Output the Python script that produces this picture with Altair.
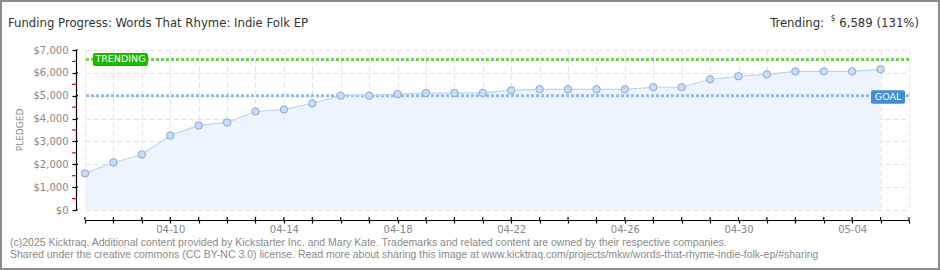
import altair as alt
import pandas as pd

# ---- data ----
dates = ["2025-04-07", "2025-04-08", "2025-04-09", "2025-04-10", "2025-04-11", "2025-04-12",
         "2025-04-13", "2025-04-14", "2025-04-15", "2025-04-16", "2025-04-17", "2025-04-18",
         "2025-04-19", "2025-04-20", "2025-04-21", "2025-04-22", "2025-04-23", "2025-04-24",
         "2025-04-25", "2025-04-26", "2025-04-27", "2025-04-28", "2025-04-29", "2025-04-30",
         "2025-05-01", "2025-05-02", "2025-05-03", "2025-05-04", "2025-05-05"]
pledged = [1600, 2080, 2430, 3260, 3700, 3830, 4310, 4400, 4660, 5000, 5000, 5075,
           5120, 5120, 5120, 5235, 5280, 5280, 5280, 5280, 5370, 5370, 5720, 5850,
           5935, 6065, 6065, 6065, 6155]
goal = [5000]
trending = [6589]
axis_days = dates + ["2025-05-06"]
label_days = ["04-10", "04-14", "04-18", "04-22", "04-26", "04-30", "05-04"]
y_ticks = [0, 1000, 2000, 3000, 4000, 5000, 6000, 7000]
minor_ticks = [500, 1500, 2500, 3500, 4500, 5500, 6500]
title_text = "Funding Progress: Words That Rhyme: Indie Folk EP"
trend_label = ["Trending:", "$", "6,589 (131%)"]
footer = ["(c)2025 Kicktraq. Additional content provided by Kickstarter Inc. and Mary Kate. Trademarks and related content are owned by their respective companies.",
          "Shared under the creative commons (CC BY-NC 3.0) license. Read more about sharing this image at www.kicktraq.com/projects/mkw/words-that-rhyme-indie-folk-ep/#sharing"]

df = pd.DataFrame({"date": dates, "pledged": pledged})
days_df = pd.DataFrame({"date": axis_days})
goal_df = pd.DataFrame({"pledged": goal})
trend_df = pd.DataFrame({"pledged": trending})
ytick_df = pd.DataFrame({"pledged": y_ticks})
minor_df = pd.DataFrame({"pledged": minor_ticks})
one = pd.DataFrame({"a": [0]})


def dt(s):
    return alt.DateTime(year=int(s[0:4]), month=int(s[5:7]), date=int(s[8:10]), utc=True)


xscale = alt.Scale(type="utc", domain=[dt(axis_days[0]), dt(axis_days[-1])])
yscale = alt.Scale(domain=[0, 7000], nice=False, zero=True)

AXF = "DejaVu Sans"
GRID = "#e3e3e3"
label_expr = "indexof([" + ",".join("'%s'" % d for d in label_days) + "], datum.label) >= 0 ? datum.label : ''"

x_axis = alt.Axis(values=[dt(d) for d in axis_days], format="%m-%d", labelExpr=label_expr,
                  offset=10, tickSize=3, tickColor="#000", domainColor="#000", domainWidth=1.2,
                  tickWidth=1.2, labelColor="#888", labelFont=AXF, labelFontSize=10, labelPadding=1,
                  labelOverlap=False, labelFlush=False, grid=True, gridColor=GRID,
                  gridDash=[5, 3], title=None)
y_axis = alt.Axis(values=y_ticks, format="$,.0f", offset=9, tickSize=4, tickColor="#000",
                  domainColor="#000", domainWidth=1.2, tickWidth=1.2, labelColor="#888", labelFont=AXF,
                  labelFontSize=10, labelPadding=4, grid=True, gridColor=GRID,
                  gridDash=[5, 3], title=None)

X = alt.X("date:T", scale=xscale, axis=x_axis)
Y = alt.Y("pledged:Q", scale=yscale, axis=y_axis)

area = alt.Chart(df).mark_area(color="#edf4fd").encode(x=X, y=Y)
line = alt.Chart(df).mark_line(color="#bad5f2", strokeWidth=1.2).encode(x=X, y=Y)
pts = alt.Chart(df).mark_point(filled=True, fill="#c6ddf7", stroke="#8fa8c9", strokeWidth=1,
                               opacity=1, size=55).encode(x=X, y=Y)

goal_rule = alt.Chart(goal_df).mark_rule(color="#8fbbec", strokeWidth=3, strokeDash=[3, 2]).encode(y=Y)
trend_rule = alt.Chart(trend_df).mark_rule(color="#6fd152", strokeWidth=3, strokeDash=[3, 2]).encode(y=Y)

# minor red ticks and crossing parts of major ticks on y axis
minor = alt.Chart(minor_df).mark_rule(color="#e00000", strokeWidth=1.2).encode(
    y=Y, x=alt.value(-13), x2=alt.value(-9))
ycross = alt.Chart(ytick_df).mark_rule(color="#000", strokeWidth=1.2).encode(
    y=Y, x=alt.value(-9), x2=alt.value(-7))
# upward parts of x ticks
xup = alt.Chart(days_df).mark_rule(color="#000", strokeWidth=1.2).encode(
    x=X, y=alt.value(167), y2=alt.value(170))

# label boxes
tbox = alt.Chart(trend_df).mark_rect(color="#1db800", cornerRadius=2, yOffset=-6.5, y2Offset=6.5).encode(
    y=Y, y2="pledged:Q", x=alt.value(8), x2=alt.value(63))
ttxt = alt.Chart(trend_df).mark_text(text="TRENDING", color="#ffffff", font=AXF, fontSize=9.5,
                                     baseline="middle", align="center").encode(
    y=Y, x=alt.value(35.5))
gbox = alt.Chart(goal_df).mark_rect(color="#3f8ddc", cornerRadius=2, yOffset=-5.5, y2Offset=8).encode(
    y=Y, y2="pledged:Q", x=alt.value(786), x2=alt.value(820))
gtxt = alt.Chart(goal_df).mark_text(text="GOAL", color="#ffffff", font=AXF, fontSize=9.5,
                                    baseline="middle", align="center", yOffset=1.2).encode(
    y=Y, x=alt.value(803))

TF = "DejaVu Sans Condensed, Liberation Sans Narrow, sans-serif"
title = alt.Chart(one).mark_text(text=title_text, font=TF, fontSize=13, color="#333",
                                 align="left", baseline="middle").encode(
    x=alt.value(-77), y=alt.value(-27.5))
tr1 = alt.Chart(one).mark_text(text=trend_label[0], font=TF, fontSize=13, color="#333",
                               align="right", baseline="middle").encode(
    x=alt.value(739), y=alt.value(-27.5))
tr2 = alt.Chart(one).mark_text(text=trend_label[1], font=TF, fontSize=8, color="#333",
                               align="center", baseline="middle").encode(
    x=alt.value(748), y=alt.value(-31))
tr3 = alt.Chart(one).mark_text(text=trend_label[2], font=TF, fontSize=13, color="#333",
                               align="right", baseline="middle").encode(
    x=alt.value(834), y=alt.value(-27.5))

FF = "Liberation Sans, sans-serif"
foot1 = alt.Chart(one).mark_text(text=footer[0], font=FF, fontSize=10.5, color="#8a8a8a",
                                 align="left", baseline="middle").encode(
    x=alt.value(-75), y=alt.value(193))
foot2 = alt.Chart(one).mark_text(text=footer[1], font=FF, fontSize=10.5, color="#8a8a8a",
                                 align="left", baseline="middle").encode(
    x=alt.value(-75), y=alt.value(205))
pled = alt.Chart(one).mark_text(text="PLEDGED", font=AXF, fontSize=9, color="#8a8a8a",
                                align="center", baseline="middle", angle=270).encode(
    x=alt.value(-65), y=alt.value(80))

border = alt.Chart(one).mark_rect(fill="transparent", stroke="#8c8c8c", strokeWidth=2).encode(
    x=alt.value(-84), x2=alt.value(854), y=alt.value(-49), y2=alt.value(219))

chart = alt.layer(
    area, goal_rule, trend_rule, line, pts, minor, ycross, xup,
    tbox, ttxt, gbox, gtxt, title, tr1, tr2, tr3, foot1, foot2, pled, border
).properties(
    width=824, height=160,
    autosize=alt.AutoSizeParams(type="none"),
    padding={"left": 85, "top": 50, "right": 31, "bottom": 60},
    background="white",
).configure_view(stroke=None)

chart.save("out.html", embed_options={"renderer": "svg", "actions": False})
